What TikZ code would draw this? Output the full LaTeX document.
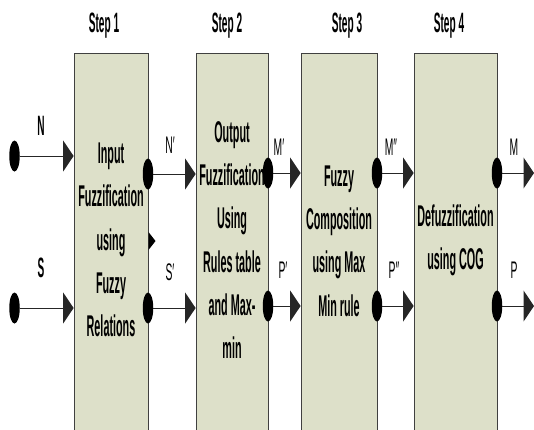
\documentclass[tikz,border=0pt]{standalone}
\usepackage{fontspec}
\setmainfont{Liberation Sans}
\newfontfamily\boldnarrow{Liberation Sans Bold}[FakeStretch=0.36]
\newfontfamily\regnarrow{Liberation Sans}[FakeStretch=0.43]
\usetikzlibrary{arrows.meta,shapes.geometric}
\definecolor{boxfill}{RGB}{221,224,201}
\definecolor{boxline}{RGB}{64,64,64}
\begin{document}
\begin{tikzpicture}[x=1pt,y=-1pt,
  stepbox/.style={draw=boxline, line width=0.8pt, fill=boxfill, minimum width=#1, minimum height=380pt, inner sep=0pt, anchor=north},
  boxtext/.style={align=center, inner sep=0pt, font=\boldnarrow\fontsize{30}{43.3}\selectfont},
  steplabel/.style={anchor=base, inner sep=0pt, font=\boldnarrow\fontsize{28}{30}\selectfont},
  siglabel/.style={anchor=base, inner sep=0pt, font=\boldnarrow\fontsize{28}{30}\selectfont},
  primelabel/.style={anchor=base, inner sep=0pt, font=\regnarrow\fontsize{24}{26}\selectfont},
  dot/.style={ellipse, fill=black, draw=none, minimum width=10.5pt, minimum height=31pt, inner sep=0pt},
  conn/.style={draw=black!85, line width=1pt, -{Triangle[length=10.5pt,width=31pt]}}
]
\useasboundingbox (0,0) rectangle (534,429);
\clip (0,0) rectangle (534,429);

% step boxes
\node[stepbox=74pt] (b1) at (111,53) {};
\node[stepbox=72pt] (b2) at (232,53) {};
\node[stepbox=76pt] (b3) at (339,53) {};
\node[stepbox=83pt] (b4) at (455.5,53) {};

% step titles
\node[steplabel] (s1) at (104,32) {Step 1};
\node[steplabel] (s2) at (227,32) {Step 2};
\node[steplabel] (s3) at (347,32) {Step 3};
\node[steplabel] (s4) at (449,32) {Step 4};

% box texts
\node[boxtext] (t1) at (111,240) {Input\\Fuzzification\\using\\Fuzzy\\Relations};
\node[boxtext] (t2) at (232,240) {Output\\Fuzzification\\Using\\Rules table\\and Max-\\min};
\node[boxtext] (t3) at (339,241) {Fuzzy\\Composition\\using Max\\Min rule};
\node[boxtext] (t4) at (455.5,240) {Defuzzification\\using COG};

% dots
\node[dot] (inN) at (14.5,156) {};
\node[dot] (inS) at (14.5,308) {};
\node[dot] (d1N) at (148,174) {};
\node[dot] (d1S) at (148,308) {};
\node[dot] (d2M) at (268,173) {};
\node[dot] (d2P) at (268,306) {};
\node[dot] (d3M) at (377,173) {};
\node[dot] (d3P) at (377,306) {};
\node[dot] (d4M) at (497,173) {};
\node[dot] (d4P) at (497,306) {};
\coordinate (oM) at (534,173);
\coordinate (oP) at (534,306);

% connectors
\draw[conn] (inN) -- (inN -| b1.west);
\draw[conn] (inS) -- (inS -| b1.west);
\draw[conn] (d1N) -- (d1N -| b2.west);
\draw[conn] (d1S) -- (d1S -| b2.west);
\draw[conn] (d2M) -- (d2M -| b3.west);
\draw[conn] (d2P) -- (d2P -| b3.west);
\draw[conn] (d3M) -- (d3M -| b4.west);
\draw[conn] (d3P) -- (d3P -| b4.west);
\draw[conn] (d4M) -- (oM);
\draw[conn] (d4P) -- (oP);

% small arrowhead on box 1
\coordinate (sm) at (148.5,241);
\fill[black] (sm) ++(0,-9) -- ++(7,9) -- ++(-7,9) -- cycle;

% signal labels
\node[siglabel] (lN) at (41,135) {N};
\node[siglabel] (lS) at (41,277) {S};
\node[primelabel] (lN1) at (170,153) {N′};
\node[primelabel] (lS1) at (170,280) {S′};
\node[primelabel] (lM1) at (279,155) {M′};
\node[primelabel] (lM2) at (391,155) {M″};
\node[primelabel] (lM) at (514,155) {M};
\node[primelabel] (lP1) at (283,278) {P′};
\node[primelabel] (lP2) at (394,278) {P″};
\node[primelabel] (lP) at (514,278) {P};
\end{tikzpicture}
\end{document}
